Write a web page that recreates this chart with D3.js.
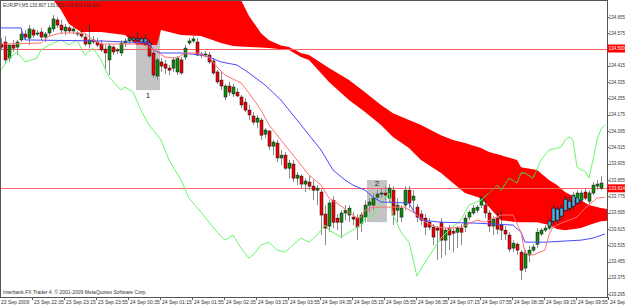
<!DOCTYPE html>
<html><head><meta charset="utf-8">
<script src="https://cdn.jsdelivr.net/npm/d3@7"></script>
<style>
html,body{margin:0;padding:0;background:#fff;}
svg{display:block;font-family:"Liberation Sans",Arial,sans-serif;}
</style></head><body>
<svg id="chart" width="625" height="305"></svg>
<script>
// EURJPY M5 bars, first bar 23 Sep 2009 21:55
const open = [
134.522,134.532,134.453,134.517,134.507,134.542,134.571,134.551,134.591,134.571,
134.581,134.556,134.576,134.596,134.640,134.615,134.586,134.601,134.586,134.576,
134.571,134.556,134.522,134.542,134.532,134.522,134.497,134.444,134.507,134.488,
134.478,134.527,134.537,134.542,134.547,134.532,134.547,134.527,134.478,134.365,
134.434,134.424,134.404,134.404,134.385,134.444,134.458,134.527,134.537,134.532,
134.473,134.468,134.468,134.439,134.385,134.345,134.262,134.316,134.277,134.286,
134.262,134.237,134.198,134.169,134.139,134.149,134.080,134.095,134.021,134.036,
133.963,133.977,133.913,133.933,133.864,133.874,133.835,133.845,133.825,133.805,
133.796,133.688,133.629,133.756,133.668,133.648,133.693,133.683,133.673,133.668,
133.643,133.673,133.732,133.732,133.771,133.786,133.791,133.766,133.805,133.707,
133.673,133.732,133.805,133.756,133.722,133.688,133.668,133.648,133.624,133.619,
133.648,133.560,133.619,133.604,133.599,133.619,133.624,133.673,133.693,133.707,
133.732,133.732,133.693,133.629,133.668,133.634,133.609,133.585,133.521,133.540,
133.501,133.423,133.487,133.511,133.540,133.590,133.609,133.619,133.653,133.658,
133.678,133.707,133.717,133.727,133.742,133.756,133.796,133.751,133.791,133.825,133.815];
const high = [
134.551,134.561,134.493,134.542,134.542,134.591,134.591,134.615,134.601,134.591,
134.601,134.581,134.615,134.664,134.655,134.640,134.620,134.610,134.605,134.586,
134.591,134.571,134.615,134.561,134.551,134.542,134.517,134.522,134.517,134.502,
134.542,134.551,134.566,134.561,134.581,134.561,134.571,134.542,134.493,134.453,
134.453,134.444,134.419,134.453,134.463,134.458,134.517,134.551,134.561,134.551,
134.483,134.488,134.483,134.453,134.394,134.385,134.326,134.336,134.326,134.306,
134.272,134.257,134.223,134.188,134.174,134.159,134.110,134.100,134.051,134.051,
134.002,133.992,133.953,133.953,133.894,133.884,133.864,133.874,133.855,133.830,
133.815,133.732,133.756,133.776,133.688,133.707,133.732,133.732,133.697,133.688,
133.697,133.756,133.766,133.791,133.805,133.815,133.825,133.835,133.825,133.766,
133.732,133.825,133.825,133.805,133.737,133.707,133.688,133.668,133.639,133.629,
133.668,133.619,133.634,133.619,133.629,133.639,133.683,133.707,133.732,133.732,
133.776,133.756,133.707,133.678,133.697,133.707,133.629,133.599,133.560,133.550,
133.511,133.511,133.531,133.540,133.619,133.619,133.634,133.668,133.732,133.727,
133.737,133.776,133.776,133.796,133.805,133.805,133.815,133.805,133.845,133.855,133.874];
const low = [
134.493,134.424,134.434,134.483,134.468,134.532,134.542,134.517,134.551,134.561,
134.542,134.532,134.561,134.581,134.601,134.571,134.566,134.576,134.571,134.561,
134.551,134.512,134.502,134.522,134.507,134.483,134.394,134.370,134.468,134.473,
134.463,134.507,134.522,134.527,134.532,134.517,134.512,134.453,134.355,134.345,
134.385,134.375,134.370,134.385,134.370,134.370,134.444,134.517,134.527,134.463,
134.453,134.458,134.424,134.370,134.326,134.296,134.247,134.267,134.262,134.262,
134.208,134.188,134.149,134.125,134.110,134.051,134.061,134.002,133.977,133.943,
133.928,133.904,133.864,133.845,133.830,133.815,133.796,133.805,133.756,133.732,
133.585,133.536,133.599,133.619,133.609,133.570,133.658,133.648,133.634,133.560,
133.599,133.648,133.697,133.707,133.756,133.766,133.756,133.747,133.634,133.648,
133.648,133.707,133.717,133.697,133.648,133.634,133.585,133.609,133.536,133.462,
133.472,133.487,133.511,133.501,133.521,133.536,133.599,133.658,133.683,133.693,
133.717,133.668,133.599,133.585,133.590,133.560,133.560,133.501,133.501,133.487,
133.364,133.403,133.452,133.501,133.521,133.580,133.599,133.609,133.639,133.634,
133.658,133.697,133.697,133.707,133.732,133.737,133.756,133.737,133.781,133.805,133.805];
const close = [
134.507,134.444,134.517,134.502,134.532,134.571,134.556,134.596,134.566,134.576,
134.556,134.571,134.601,134.645,134.615,134.591,134.605,134.586,134.596,134.571,
134.561,134.522,134.542,134.532,134.517,134.493,134.478,134.512,134.483,134.493,
134.527,134.537,134.551,134.551,134.542,134.547,134.532,134.463,134.370,134.444,
134.414,134.404,134.394,134.444,134.453,134.380,134.502,134.537,134.547,134.468,
134.468,134.473,134.434,134.380,134.336,134.316,134.316,134.286,134.311,134.267,
134.223,134.198,134.174,134.139,134.159,134.075,134.100,134.021,134.041,133.963,
133.977,133.913,133.938,133.864,133.879,133.835,133.850,133.825,133.805,133.815,
133.683,133.619,133.742,133.648,133.648,133.693,133.707,133.717,133.663,133.624,
133.683,133.732,133.747,133.766,133.786,133.791,133.781,133.815,133.683,133.732,
133.717,133.805,133.742,133.776,133.673,133.658,133.624,133.624,133.575,133.609,
133.560,133.609,133.585,133.594,133.619,133.599,133.668,133.697,133.717,133.722,
133.766,133.693,133.629,133.663,133.614,133.609,133.590,133.516,133.545,133.511,
133.413,133.496,133.511,133.526,133.599,133.609,133.619,133.653,133.717,133.712,
133.717,133.761,133.751,133.781,133.791,133.791,133.766,133.791,133.830,133.835,133.840];

// indicator lines: [bar, price]
const tenkan = [[0,134.522],[10,134.527],[12,134.561],[15,134.576],[21,134.576],[23,134.542],[25,134.522],
[35,134.522],[37,134.507],[41,134.458],[44,134.453],[46,134.478],[49,134.478],[52,134.458],[54,134.409],
[56,134.370],[60,134.331],[62,134.282],[65,134.198],[67,134.125],[70,134.051],[72,134.002],[75,133.928],
[77,133.879],[80,133.830],[82,133.766],[84,133.742],[87,133.697],[89,133.668],[90,133.673],[91,133.707],
[93,133.722],[101,133.722],[103,133.697],[105,133.668],[106,133.648],[109,133.624],[112,133.619],
[115,133.624],[119,133.658],[121,133.648],[125,133.683],[128,133.683],[130,133.599],[131,133.496],
[133,133.487],[136,133.511],[137,133.585],[138,133.624],[140,133.643],[144,133.673],[146,133.717],
[149,133.766],[151,133.771]];
const kijun = [[0,134.601],[5,134.601],[6,134.542],[25,134.537],[37,134.527],[38,134.493],[40,134.478],
[45,134.478],[50,134.468],[52,134.458],[55,134.434],[59,134.419],[62,134.380],[66,134.321],[70,134.247],
[75,134.125],[80,134.002],[83,133.904],[86,133.855],[88,133.830],[91,133.805],[93,133.771],[95,133.747],
[102,133.742],[103,133.707],[105,133.658],[110,133.648],[119,133.643],[128,133.634],[130,133.599],
[131,133.550],[136,133.550],[145,133.560],[148,133.570],[151,133.590]];
const chikou = [[0,134.394],[2,134.453],[4,134.483],[6,134.434],[9,134.453],[10,134.493],[12,134.517],
[15,134.542],[17,134.517],[19,134.542],[21,134.468],[23,134.502],[25,134.444],[27,134.360],[30,134.296],
[31,134.311],[33,134.286],[35,134.198],[37,134.125],[40,134.051],[42,133.953],[45,133.855],[47,133.766],
[50,133.697],[52,133.648],[54,133.599],[56,133.560],[58,133.585],[60,133.521],[62,133.472],[63,133.487],
[65,133.536],[67,133.550],[69,133.511],[71,133.501],[73,133.536],[75,133.570],[77,133.550],[79,133.585],
[81,133.634],[82,133.609],[85,133.575],[87,133.599],[90,133.634],[91,133.668],[93,133.683],[95,133.742],
[97,133.791],[98,133.683],[99,133.643],[100,133.599],[102,133.550],[104,133.383],[106,133.452],
[108,133.511],[110,133.570],[112,133.609],[115,133.658],[117,133.732],[120,133.756],[122,133.791],
[124,133.830],[125,133.805],[127,133.864],[129,133.840],[130,133.889],[131,133.889],[133,133.864],
[135,133.953],[137,134.002],[140,134.016],[141,134.051],[142,134.066],[143,134.051],[144,133.918],
[145,133.904],[146,133.899],[147,133.864],[148,133.953],[149,134.051],[150,134.105],[151,134.125]];

// cloud (senkou spans)
const cloudBars = [13,15,17,20,25,31,34,39,40,45,50,55,58,60,62,65,67,70,72,75,77,82,87,91,95,98,
102,105,110,113,116,120,122,125,129,130,134,137,139,141,145,147,150,152];
const senkouA = [134.760,134.760,134.760,134.760,134.760,134.760,134.760,134.760,134.760,134.760,134.760,
134.760,134.760,134.738,134.660,134.575,134.540,134.515,134.507,134.478,134.468,134.404,134.345,134.286,
134.223,134.183,134.149,134.125,134.075,134.051,134.036,134.012,133.992,133.977,133.953,133.918,133.904,
133.855,133.830,133.796,133.756,133.732,133.717,133.712];
const senkouB = [134.740,134.689,134.620,134.581,134.581,134.566,134.517,134.517,134.591,134.566,134.561,
134.527,134.512,134.510,134.507,134.505,134.502,134.497,134.493,134.458,134.444,134.336,134.247,134.188,
134.125,134.066,134.012,133.953,133.889,133.840,133.791,133.766,133.722,133.658,133.648,133.648,133.648,
133.634,133.614,133.609,133.619,133.634,133.653,133.655];

// marked zones
const boxLabels = ["1", "2"];
const boxFrom = [33.75, 91.5];
const boxTo = [39.75, 96.5];
const boxTop = [134.576, 133.855];
const boxBottom = [134.296, 133.648];

const levels = [134.500, 133.814];

const priceTicks = [134.655,134.575,134.495,134.415,134.335,134.255,134.175,134.095,134.015,
133.935,133.855,133.775,133.695,133.615,133.535,133.455,133.375,133.295];
const timeTickBars = [0,8,16,24,32,40,48,56,64,72,80,88,96,104,112,120,128,136,144,152];
const timeLabels = ["23 Sep 2009","23 Sep 22:35","23 Sep 23:15","23 Sep 23:55","24 Sep 00:35",
"24 Sep 01:15","24 Sep 01:55","24 Sep 02:35","24 Sep 03:15","24 Sep 03:55","24 Sep 04:35",
"24 Sep 05:15","24 Sep 05:55","24 Sep 06:35","24 Sep 07:15","24 Sep 07:55","24 Sep 08:35",
"24 Sep 09:15","24 Sep 09:55","24 Sep 10:35"];

const title = "EURJPY,M5  133.807 133.820 133.804 133.820";
const copyright = "Interbank FX Trader 4, \u00a9 2001-2009 MetaQuotes Software Corp.";

const plotR = 607, plotB = 297;
const svg = d3.select("#chart");

const x = d3.scaleLinear().domain([0, 150]).range([1, 601]);
const y = d3.scaleLinear().domain([133.281, 134.738]).range([plotB, 0]);

svg.append("rect").attr("width", 625).attr("height", 305).attr("fill", "#fff");

const defs = svg.append("defs");
defs.append("clipPath").attr("id", "plot")
    .append("rect").attr("x", 0).attr("y", 0).attr("width", plotR).attr("height", plotB);

const cloud = cloudBars.map((b, i) => [b, senkouA[i], senkouB[i]]);
const cloudArea = d3.area()
    .x(d => x(d[0]))
    .y0(d => y(d[1]))
    .y1(d => y(d[2]));
defs.append("clipPath").attr("id", "cloudClip")
    .append("path").attr("d", cloudArea(cloud));

const g = svg.append("g").attr("clip-path", "url(#plot)");

// grey zones
g.selectAll(".zone").data(boxLabels).join("rect")
    .attr("x", (d, i) => x(boxFrom[i]))
    .attr("y", (d, i) => y(boxTop[i]))
    .attr("width", (d, i) => x(boxTo[i]) - x(boxFrom[i]))
    .attr("height", (d, i) => y(boxBottom[i]) - y(boxTop[i]))
    .attr("fill", "#c4c4c4");

g.append("path").attr("d", cloudArea(cloud)).attr("fill", "#ff0000");

// horizontal levels
g.selectAll(".lvl").data(levels).join("line")
    .attr("x1", 0).attr("x2", plotR)
    .attr("y1", d => Math.round(y(d)) + 0.5).attr("y2", d => Math.round(y(d)) + 0.5)
    .attr("stroke", "#ff6464").attr("stroke-width", 1);

// candles
const bars = d3.range(open.length);
function drawCandles(layer, cyan) {
    layer.selectAll(".wick").data(bars).join("line")
        .attr("x1", i => x(i) + 0.5).attr("x2", i => x(i) + 0.5)
        .attr("y1", i => y(high[i])).attr("y2", i => y(low[i]))
        .attr("stroke", cyan ? "#333" : "#8a8a8a").attr("stroke-width", 1);
    layer.selectAll(".body").data(bars).join("rect")
        .attr("x", i => x(i) - 1)
        .attr("width", 3)
        .attr("y", i => y(Math.max(open[i], close[i])))
        .attr("height", i => Math.max(1, Math.abs(y(open[i]) - y(close[i]))))
        .attr("fill", i => cyan ? "#3fb8f2" : (close[i] >= open[i] ? "#0e8c0e" : "#f00000"))
        .attr("stroke", "#111").attr("stroke-width", 0.5);
}
drawCandles(g.append("g"), false);
drawCandles(g.append("g").attr("clip-path", "url(#cloudClip)"), true);

// indicator lines
const line = d3.line().x(d => x(d[0])).y(d => y(d[1]));
g.append("path").attr("d", line(chikou)).attr("fill", "none").attr("stroke", "#6cf56c").attr("stroke-width", 1);
g.append("g").attr("clip-path", "url(#cloudClip)")
    .append("path").attr("d", line(chikou)).attr("fill", "none").attr("stroke", "#6a8a20").attr("stroke-width", 1);
g.append("path").attr("d", line(kijun)).attr("fill", "none").attr("stroke", "#4a4aff").attr("stroke-width", 1);
g.append("path").attr("d", line(tenkan)).attr("fill", "none").attr("stroke", "#ff7070").attr("stroke-width", 1);

// zone labels
svg.selectAll(".zl").data(boxLabels).join("text")
    .attr("x", (d, i) => (x(boxFrom[i]) + x(boxTo[i])) / 2)
    .attr("y", (d, i) => i === 0 ? y(boxBottom[i]) + 8 : y(boxTop[i]) + 6)
    .attr("text-anchor", "middle")
    .attr("font-size", 8).attr("fill", "#222")
    .text(d => d);

// frame and axes
svg.append("rect").attr("x", 0.5).attr("y", 0.5).attr("width", plotR).attr("height", plotB)
    .attr("fill", "none").attr("stroke", "#555").attr("stroke-width", 1);

svg.selectAll(".pt").data(priceTicks).join("line")
    .attr("x1", plotR).attr("x2", plotR + 2)
    .attr("y1", d => Math.round(y(d)) + 0.5).attr("y2", d => Math.round(y(d)) + 0.5)
    .attr("stroke", "#555");
svg.selectAll(".pl").data(priceTicks).join("text")
    .attr("x", plotR + 1.8).attr("y", d => y(d) + 1.6)
    .attr("font-size", 4.5).attr("fill", "#333")
    .text(d => d.toFixed(3));

svg.selectAll(".lb").data(levels).join("rect")
    .attr("x", plotR + 0.5).attr("y", d => y(d) - 4)
    .attr("width", 17.5).attr("height", 8).attr("fill", "#ff0000");
svg.selectAll(".lt").data(levels).join("text")
    .attr("x", plotR + 1.8).attr("y", d => y(d) + 1.6)
    .attr("font-size", 4.5).attr("fill", "#fff")
    .text(d => d.toFixed(3));

svg.selectAll(".tt").data(timeTickBars.slice(1)).join("line")
    .attr("x1", b => Math.round(x(b)) - 0.5).attr("x2", b => Math.round(x(b)) - 0.5)
    .attr("y1", plotB).attr("y2", plotB + 3)
    .attr("stroke", "#555");
svg.selectAll(".tl").data(timeLabels).join("text")
    .attr("x", (d, i) => i === 0 ? 1 : x(timeTickBars[i]) + 1)
    .attr("y", 303.5)
    .attr("font-size", 5).attr("fill", "#333")
    .text(d => d);

svg.append("text").attr("x", 3).attr("y", 7).attr("font-size", 4.6).attr("fill", "#333").text(title);
svg.append("text").attr("x", 3).attr("y", 294).attr("font-size", 5).attr("fill", "#333").text(copyright);
</script>
</body></html>
